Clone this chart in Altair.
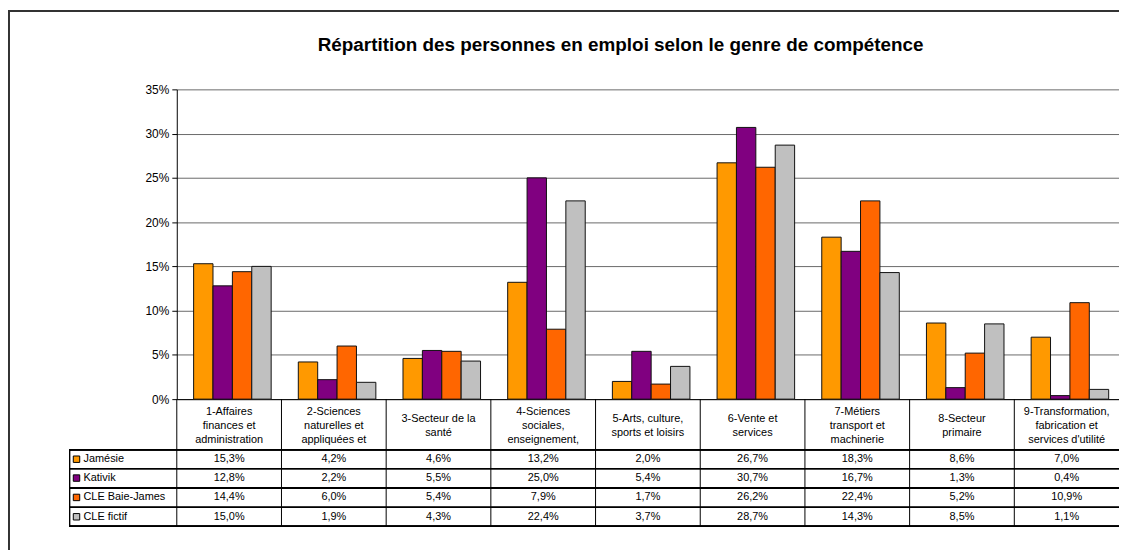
import altair as alt
import pandas as pd

categories = [
    "1-Affaires\nfinances et\nadministration",
    "2-Sciences\nnaturelles et\nappliquées et",
    "3-Secteur de la\nsanté",
    "4-Sciences\nsociales,\nenseignement,",
    "5-Arts, culture,\nsports et loisirs",
    "6-Vente et\nservices",
    "7-Métiers\ntransport et\nmachinerie",
    "8-Secteur\nprimaire",
    "9-Transformation,\nfabrication et\nservices d'utilité",
]
cat_ids = [f"c{i}" for i in range(len(categories))]
series = ["Jamésie", "Kativik", "CLE Baie-James", "CLE fictif"]
colors = ["#FF9900", "#800080", "#FF6600", "#C0C0C0"]

jamesie = [15.3, 4.2, 4.6, 13.2, 2.0, 26.7, 18.3, 8.6, 7.0]
kativik = [12.8, 2.2, 5.5, 25.0, 5.4, 30.7, 16.7, 1.3, 0.4]
cle_baie_james = [14.4, 6.0, 5.4, 7.9, 1.7, 26.2, 22.4, 5.2, 10.9]
cle_fictif = [15.0, 1.9, 4.3, 22.4, 3.7, 28.7, 14.3, 8.5, 1.1]
values = [jamesie, kativik, cle_baie_james, cle_fictif]

title = "Répartition des personnes en emploi selon le genre de compétence"

rows = []
for s, vals in zip(series, values):
    for cid, v in zip(cat_ids, vals):
        rows.append({"cat": cid, "series": s, "value": v / 100.0,
                     "label": f"{v:.1f}%".replace(".", ",")})
df = pd.DataFrame(rows)
cat_df = pd.DataFrame({"cat": cat_ids, "header": categories,
                       "nlines": [c.count("\n") + 1 for c in categories]})
ser_df = pd.DataFrame({"series": series})

W, H = 949, 312
FONT = "Liberation Sans"
row_lines = [363, 382, 401.5, 421, 440]
row_centers = [372.5, 391.5, 411, 430.5]
LH = 14.5

color_scale = alt.Scale(domain=series, range=colors)
xenc = alt.X("cat:N", sort=cat_ids, scale=alt.Scale(paddingInner=0, paddingOuter=0),
             axis=alt.Axis(labels=False, ticks=False, title=None, domainColor="black",
                           domainWidth=1, grid=False))

bars = alt.Chart(df).mark_bar(stroke="#111111", strokeWidth=1).encode(
    x=xenc,
    xOffset=alt.XOffset("series:N", sort=series,
                        scale=alt.Scale(paddingInner=0, paddingOuter=0.7, align=0.62)),
    y=alt.Y("value:Q", scale=alt.Scale(domain=[0, 0.35], nice=False),
            axis=alt.Axis(format=".0%", values=[0, 0.05, 0.1, 0.15, 0.2, 0.25, 0.3, 0.35],
                          title=None, grid=True, gridColor="#6a6a6a", gridWidth=1,
                          domainColor="black", tickColor="black", tickSize=5,
                          labelFont=FONT, labelFontSize=12, labelColor="black",
                          labelPadding=3)),
    color=alt.Color("series:N", scale=color_scale, legend=None),
)

layers = [bars]

# header texts (block vertically centred in the header row)
for n in (2, 3):
    layers.append(alt.Chart(cat_df).transform_filter(alt.datum.nlines == n).mark_text(
        font=FONT, fontSize=11, lineBreak="\n", lineHeight=LH, baseline="middle",
        align="center", color="black").encode(
        x=alt.X("cat:N", sort=cat_ids), y=alt.value(339 - (n - 1) * LH / 2),
        text="header:N"))

# vertical table lines
layers.append(alt.Chart(cat_df).mark_rule(color="black", strokeWidth=1).encode(
    x=alt.X("cat:N", sort=cat_ids, bandPosition=0), y=alt.value(H), y2=alt.value(row_lines[-1])))

# horizontal table lines
for yy in row_lines:
    layers.append(alt.Chart(cat_df).mark_rule(color="black", strokeWidth=1).encode(
        x=alt.value(-108), x2=alt.value(W), y=alt.value(yy)))
layers.append(alt.Chart(cat_df).mark_rule(color="black", strokeWidth=1).encode(
    x=alt.value(-108), y=alt.value(row_lines[0]), y2=alt.value(row_lines[-1])))

# table values, legend keys and names
for s, yc in zip(series, row_centers):
    layers.append(alt.Chart(df).transform_filter(alt.datum.series == s).mark_text(
        font=FONT, fontSize=11, baseline="middle", align="center", color="black").encode(
        x=alt.X("cat:N", sort=cat_ids), y=alt.value(yc), text="label:N"))
    sub = ser_df[ser_df.series == s]
    layers.append(alt.Chart(sub).mark_square(size=42, stroke="black", strokeWidth=1,
                                             opacity=1).encode(
        x=alt.value(-101), y=alt.value(yc), color=alt.Color("series:N", scale=color_scale,
                                                             legend=None)))
    layers.append(alt.Chart(sub).mark_text(font=FONT, fontSize=11, baseline="middle",
                                           align="left", color="black").encode(
        x=alt.value(-94), y=alt.value(yc), text="series:N"))

# title
layers.append(alt.Chart(cat_df.head(1)).mark_text(
    font=FONT, fontSize=19, fontWeight="bold", align="center", baseline="middle",
    color="black").encode(x=alt.value(447), y=alt.value(-45), text=alt.value(title)))

# outer frame
layers.append(alt.Chart(cat_df.head(1)).mark_rule(color="#333333", strokeWidth=2).encode(
    x=alt.value(-169), y=alt.value(-79), y2=alt.value(470)))
layers.append(alt.Chart(cat_df.head(1)).mark_rule(color="#333333", strokeWidth=2).encode(
    x=alt.value(-170), x2=alt.value(W), y=alt.value(-79)))

chart = alt.layer(*layers).properties(
    width=W, height=H,
    autosize=alt.AutoSizeParams(type="none"),
    padding={"left": 170, "top": 80, "right": 0, "bottom": 150},
).configure_view(stroke=None)

chart.save("out.html", embed_options={"renderer": "svg", "actions": False})
